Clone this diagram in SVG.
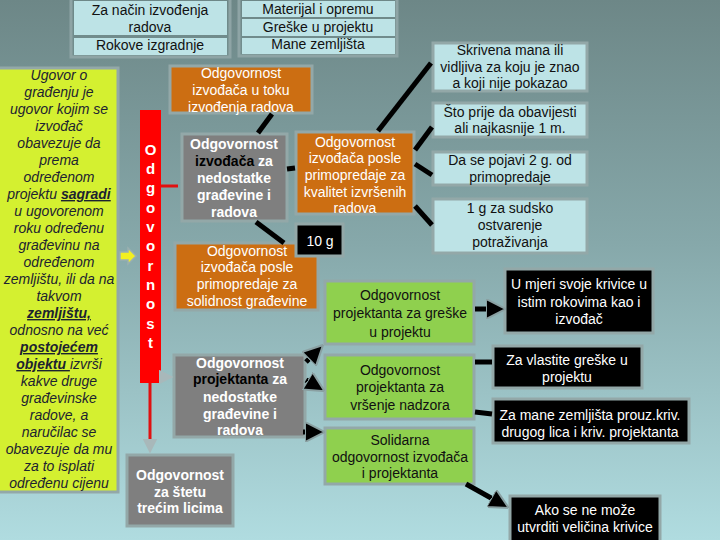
<svg xmlns="http://www.w3.org/2000/svg" width="720" height="540" viewBox="0 0 720 540">
<defs>
<linearGradient id="bg" x1="0" y1="0" x2="0" y2="1">
<stop offset="0" stop-color="#6d8787"/>
<stop offset="0.45" stop-color="#86a8aa"/>
<stop offset="1" stop-color="#b0dce0"/>
</linearGradient>
<marker id="ah" markerWidth="4" markerHeight="4" refX="2" refY="2" orient="auto" markerUnits="strokeWidth">
<path d="M0,0 L4,2 L0,4 z" fill="#000" stroke="#8aa0a2" stroke-width="0.4"/>
</marker>
<marker id="ahr" markerWidth="5" markerHeight="5" refX="2.5" refY="2.5" orient="auto" markerUnits="strokeWidth">
<path d="M0,0 L5,2.5 L0,5 z" fill="#a8b8ba"/>
</marker>
</defs>
<style>
text{font-family:"Liberation Sans",Arial,sans-serif;font-size:14px;text-anchor:middle}
.frame{fill:none;stroke:#8ea4a5;stroke-width:3}
.lb{fill:#bde3e6}
.yl{fill:#d4f030;stroke:#93a8a8;stroke-width:3}
.or{fill:#cc6e12;stroke:#93a8a8;stroke-width:3}
.gr{fill:#7f7f7f;stroke:#93a8a8;stroke-width:3}
.gn{fill:#8fd04e;stroke:#93a8a8;stroke-width:3}
.bk{fill:#000;stroke:#93a8a8;stroke-width:3}
.lbx{fill:#bde3e6;stroke:#93a8a8;stroke-width:3}
.tb{fill:#111}
.tw{fill:#fff}
.tbw{fill:#fff;font-weight:bold}
.ty{fill:#1c2330;font-style:italic}
.u{font-weight:bold;text-decoration:underline}
.cn{stroke:#000;stroke-width:5;fill:none}
</style>
<rect x="0" y="0" width="720" height="540" fill="url(#bg)"/>

<g id="top-left">
<rect class="frame" x="71" y="-2" width="159" height="59"/>
<rect class="lb" x="74" y="1" width="153" height="34"/>
<rect class="lb" x="74" y="38" width="153" height="17"/>
<text class="tb" x="150" y="15">Za način izvođenja</text>
<text class="tb" x="150" y="32">radova</text>
<text class="tb" x="150" y="50">Rokove izgradnje</text>
</g>

<g id="top-mid">
<rect class="frame" x="239" y="-2" width="158" height="58"/>
<rect class="lb" x="242" y="1" width="153" height="16"/>
<rect class="lb" x="242" y="19" width="153" height="17"/>
<rect class="lb" x="242" y="38" width="153" height="16"/>
<text class="tb" x="318" y="14">Materijal i opremu</text>
<text class="tb" x="318" y="32">Greške u projektu</text>
<text class="tb" x="318" y="49">Mane zemljišta</text>
</g>

<g id="ugovor">
<rect class="yl" x="-2" y="68" width="120" height="424"/>
<text class="ty" x="59" y="80">Ugovor o</text>
<text class="ty" x="59" y="97">građenju je</text>
<text class="ty" x="59" y="114">ugovor kojim se</text>
<text class="ty" x="59" y="131">izvođač</text>
<text class="ty" x="59" y="148">obavezuje da</text>
<text class="ty" x="59" y="165">prema</text>
<text class="ty" x="59" y="182">određenom</text>
<text class="ty" x="59" y="199">projektu <tspan class="u">sagradi</tspan></text>
<text class="ty" x="59" y="216">u ugovorenom</text>
<text class="ty" x="59" y="233">roku određenu</text>
<text class="ty" x="59" y="250">građevinu na</text>
<text class="ty" x="59" y="267">određenom</text>
<text class="ty" x="59" y="284">zemljištu, ili da na</text>
<text class="ty" x="59" y="301">takvom</text>
<text class="ty" x="59" y="318"><tspan class="u">zemljištu,</tspan></text>
<text class="ty" x="59" y="335">odnosno na već</text>
<text class="ty" x="59" y="352"><tspan class="u">postojećem</tspan></text>
<text class="ty" x="59" y="369"><tspan class="u">objektu </tspan>izvrši</text>
<text class="ty" x="59" y="386">kakve druge</text>
<text class="ty" x="59" y="403">građevinske</text>
<text class="ty" x="59" y="420">radove, a</text>
<text class="ty" x="59" y="437">naručilac se</text>
<text class="ty" x="59" y="454">obavezuje da mu</text>
<text class="ty" x="59" y="471">za to isplati</text>
<text class="ty" x="59" y="488">određenu cijenu</text>
</g>

<g id="odgovornost-bar">
<rect x="140" y="110" width="21" height="273" fill="#f00"/>
<text class="tbw" x="150.5" y="155" style="font-size:15px">O</text>
<text class="tbw" x="150.5" y="174" style="font-size:15px">d</text>
<text class="tbw" x="150.5" y="193" style="font-size:15px">g</text>
<text class="tbw" x="150.5" y="213" style="font-size:15px">o</text>
<text class="tbw" x="150.5" y="232" style="font-size:15px">v</text>
<text class="tbw" x="150.5" y="251" style="font-size:15px">o</text>
<text class="tbw" x="150.5" y="271" style="font-size:15px">r</text>
<text class="tbw" x="150.5" y="290" style="font-size:15px">n</text>
<text class="tbw" x="150.5" y="309" style="font-size:15px">o</text>
<text class="tbw" x="150.5" y="329" style="font-size:15px">s</text>
<text class="tbw" x="150.5" y="348" style="font-size:15px">t</text>
</g>

<g id="izv-toku">
<rect class="or" x="170" y="66" width="142" height="47"/>
<text class="tw" x="241" y="78">Odgovornost</text>
<text class="tw" x="241" y="95">izvođača u toku</text>
<text class="tw" x="241" y="112">izvođenja radova</text>
</g>

<g id="izv-nedostatke">
<rect class="gr" x="182" y="134" width="105" height="87"/>
<text class="tbw" x="234" y="149">Odgovornost</text>
<text class="tbw" x="234" y="166"><tspan fill="#000">izvođača</tspan> za</text>
<text class="tbw" x="234" y="183">nedostatke</text>
<text class="tbw" x="234" y="200">građevine i</text>
<text class="tbw" x="234" y="217">radova</text>
</g>

<g id="izv-kvalitet">
<rect class="or" x="296" y="132" width="118" height="82"/>
<text class="tw" x="355" y="147">Odgovornost</text>
<text class="tw" x="355" y="163">izvođača posle</text>
<text class="tw" x="355" y="180">primopredaje za</text>
<text class="tw" x="355" y="197">kvalitet izvršenih</text>
<text class="tw" x="355" y="213">radova</text>
</g>

<g id="izv-solidnost">
<rect class="or" x="175" y="243" width="143" height="67"/>
<text class="tw" x="247" y="256">Odgovornost</text>
<text class="tw" x="247" y="272">izvođača posle</text>
<text class="tw" x="247" y="289">primopredaje za</text>
<text class="tw" x="247" y="306">solidnost građevine</text>
</g>

<g id="deset-g">
<rect class="bk" x="296" y="224" width="47" height="32"/>
<text class="tw" x="320" y="246">10 g</text>
</g>

<g id="proj-nedostatke">
<rect class="gr" x="174" y="355" width="131" height="82"/>
<text class="tbw" x="240" y="368">Odgovornost</text>
<text class="tbw" x="240" y="384"><tspan fill="#000">projektanta</tspan> za</text>
<text class="tbw" x="240" y="402">nedostatke</text>
<text class="tbw" x="240" y="419">građevine i</text>
<text class="tbw" x="240" y="435">radova</text>
</g>

<g id="steta">
<rect class="gr" x="127" y="455" width="106" height="71"/>
<text class="tbw" x="180" y="480">Odgovornost</text>
<text class="tbw" x="180" y="497">za štetu</text>
<text class="tbw" x="180" y="513">trećim licima</text>
</g>

<g id="proj-greske">
<rect class="gn" x="325" y="281" width="149" height="63"/>
<text class="tb" x="400" y="300">Odgovornost</text>
<text class="tb" x="400" y="318">projektanta za greške</text>
<text class="tb" x="400" y="337">u projektu</text>
</g>

<g id="proj-nadzor">
<rect class="gn" x="325" y="355" width="149" height="64"/>
<text class="tb" x="400" y="375">Odgovornost</text>
<text class="tb" x="400" y="392">projektanta za</text>
<text class="tb" x="400" y="410">vršenje nadzora</text>
</g>

<g id="solidarna">
<rect class="gn" x="325" y="428" width="149" height="56"/>
<text class="tb" x="400" y="445">Solidarna</text>
<text class="tb" x="400" y="462">odgovornost izvođača</text>
<text class="tb" x="400" y="478">i projektanta</text>
</g>

<g id="skrivena">
<rect class="lbx" x="433" y="43" width="154" height="48"/>
<text class="tb" x="510" y="55">Skrivena mana ili</text>
<text class="tb" x="510" y="72">vidljiva za koju je znao</text>
<text class="tb" x="510" y="88">a  koji nije pokazao</text>
</g>

<g id="sto-prije">
<rect class="lbx" x="433" y="103" width="154" height="34"/>
<text class="tb" x="510" y="117">Što prije da obavijesti</text>
<text class="tb" x="510" y="133">ali najkasnije 1 m.</text>
</g>

<g id="dva-g">
<rect class="lbx" x="433" y="152" width="154" height="33"/>
<text class="tb" x="510" y="165">Da se pojavi 2 g. od</text>
<text class="tb" x="510" y="182">primopredaje</text>
</g>

<g id="jedan-g">
<rect class="lbx" x="433" y="199" width="154" height="54"/>
<text class="tb" x="510" y="213">1 g za sudsko</text>
<text class="tb" x="510" y="230">ostvarenje</text>
<text class="tb" x="510" y="247">potraživanja</text>
</g>

<g id="u-mjeri">
<rect class="bk" x="505" y="269" width="148" height="64"/>
<text class="tw" x="579" y="289">U mjeri svoje krivice u</text>
<text class="tw" x="579" y="307">istim rokovima kao i</text>
<text class="tw" x="579" y="324">izvođač</text>
</g>

<g id="vlastite">
<rect class="bk" x="493" y="346" width="149" height="42"/>
<text class="tw" x="567" y="365">Za vlastite greške u</text>
<text class="tw" x="567" y="382">projektu</text>
</g>

<g id="mane">
<rect class="bk" x="493" y="399" width="196" height="44"/>
<text class="tw" x="590" y="420">Za mane zemljišta prouz.kriv.</text>
<text class="tw" x="590" y="437">drugog lica i kriv. projektanta</text>
</g>

<g id="ako">
<rect class="bk" x="510" y="496" width="150" height="46"/>
<text class="tw" x="585" y="515">Ako se ne može</text>
<text class="tw" x="585" y="532">utvrditi veličina krivice</text>
</g>

<g id="connectors">
<line class="cn" x1="272" y1="114" x2="258" y2="133"/>
<line class="cn" x1="256" y1="222" x2="284" y2="243"/>
<line class="cn" x1="287" y1="169" x2="295" y2="168" stroke-width="4"/>
<line class="cn" x1="378" y1="131" x2="431" y2="63" stroke-width="4"/>
<line class="cn" x1="415" y1="150" x2="432" y2="127" stroke-width="4"/>
<line class="cn" x1="415" y1="164" x2="432" y2="175" stroke-width="4"/>
<line class="cn" x1="415" y1="206" x2="432" y2="225" stroke-width="4"/>
<line x1="161" y1="186" x2="178" y2="186" stroke="#e01010" stroke-width="3"/>
<line x1="161" y1="377" x2="166" y2="377" stroke="#e01010" stroke-width="3" marker-end="url(#ahr)"/>
<line x1="150" y1="383" x2="150" y2="446" stroke="#e01010" stroke-width="3" marker-end="url(#ahr)"/>
<path d="M120,252 L128,252 L128,248 L136,256 L128,264 L128,260 L120,260 z" fill="#f2f020" stroke="#9ab0b0" stroke-width="1.5"/>
<line class="cn" x1="306" y1="362" x2="316" y2="352" marker-end="url(#ah)"/>
<line class="cn" x1="306" y1="380" x2="316" y2="386" marker-end="url(#ah)"/>
<line class="cn" x1="303" y1="432" x2="315" y2="432" marker-end="url(#ah)"/>
<line class="cn" x1="475" y1="309" x2="496" y2="309" marker-end="url(#ah)"/>
<line class="cn" x1="475" y1="362" x2="492" y2="362"/>
<line class="cn" x1="475" y1="412" x2="492" y2="414"/>
<line class="cn" x1="466" y1="484" x2="500" y2="503" marker-end="url(#ah)"/>
</g>
</svg>
